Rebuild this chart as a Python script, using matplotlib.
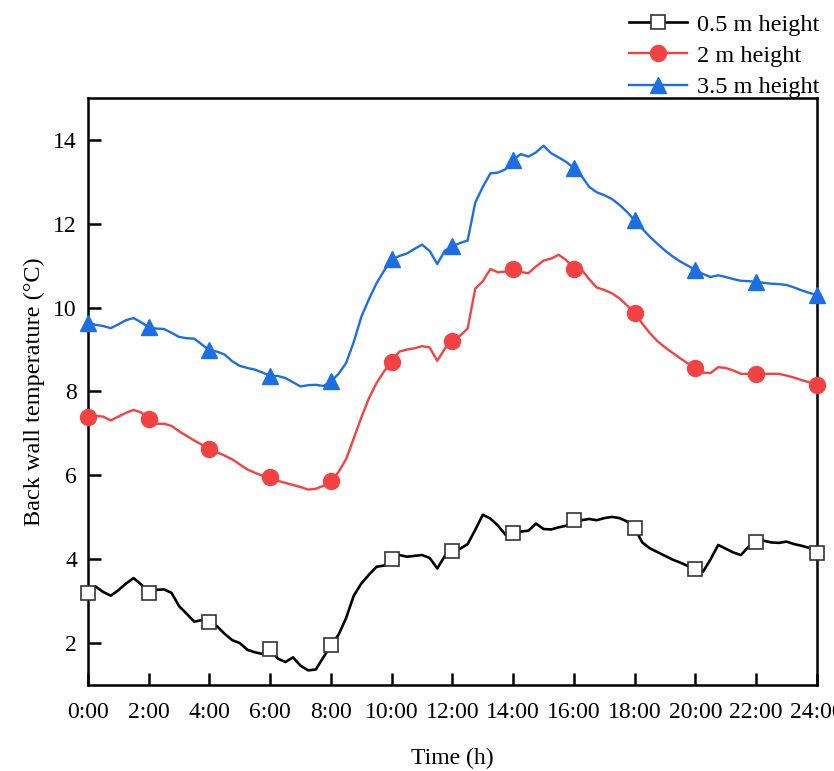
import numpy as np
import matplotlib
matplotlib.use("Agg")
import matplotlib.pyplot as plt

plt.rcParams['font.family'] = ['Liberation Serif', 'DejaVu Serif']
plt.rcParams['mathtext.fontset'] = 'stix'

# time in hours, 15-minute steps
time_h = np.arange(0, 24.01, 0.25)

temp_05m = [3.19, 3.35, 3.22, 3.13, 3.26, 3.42, 3.55, 3.40, 3.20, 3.27, 3.28, 3.20,
            2.88, 2.70, 2.51, 2.55, 2.51, 2.40, 2.22, 2.07, 2.00, 1.84, 1.78, 1.74,
            1.86, 1.63, 1.55, 1.66, 1.46, 1.35, 1.37, 1.66, 1.95, 2.20, 2.60, 3.13,
            3.42, 3.63, 3.82, 3.85, 4.00, 4.10, 4.06, 4.08, 4.10, 4.03, 3.78, 4.08,
            4.20, 4.25, 4.36, 4.70, 5.06, 4.97, 4.80, 4.58, 4.62, 4.66, 4.68, 4.85,
            4.72, 4.71, 4.76, 4.80, 4.94, 4.93, 4.96, 4.93, 4.98, 5.01, 4.98, 4.90,
            4.74, 4.40, 4.26, 4.17, 4.08, 3.99, 3.92, 3.84, 3.76, 3.70, 4.00, 4.34,
            4.25, 4.16, 4.10, 4.30, 4.42, 4.44, 4.40, 4.39, 4.42, 4.36, 4.32, 4.27,
            4.16]

temp_2m = [7.39, 7.42, 7.40, 7.31, 7.40, 7.49, 7.56, 7.50, 7.35, 7.23, 7.23, 7.18,
           7.05, 6.94, 6.83, 6.73, 6.63, 6.55, 6.47, 6.38, 6.26, 6.14, 6.06, 5.99,
           5.95, 5.87, 5.82, 5.77, 5.72, 5.66, 5.68, 5.75, 5.87, 6.08, 6.39, 6.88,
           7.38, 7.84, 8.20, 8.48, 8.71, 8.95, 9.00, 9.03, 9.08, 9.05, 8.73, 9.02,
           9.21, 9.33, 9.50, 10.45, 10.63, 10.92, 10.84, 10.86, 10.92, 10.85, 10.82, 10.98,
           11.12, 11.17, 11.26, 11.13, 10.92, 10.91, 10.68, 10.48, 10.42, 10.34, 10.22, 10.05,
           9.87, 9.62, 9.39, 9.20, 9.05, 8.92, 8.79, 8.67, 8.57, 8.45, 8.44, 8.58,
           8.56, 8.50, 8.42, 8.42, 8.42, 8.42, 8.42, 8.42, 8.38, 8.33, 8.27, 8.22,
           8.16]

temp_35m = [9.63, 9.59, 9.56, 9.51, 9.60, 9.70, 9.75, 9.65, 9.53, 9.50, 9.49, 9.40,
            9.30, 9.27, 9.26, 9.12, 8.98, 8.95, 8.88, 8.72, 8.61, 8.56, 8.52, 8.45,
            8.37, 8.37, 8.32, 8.22, 8.12, 8.15, 8.16, 8.13, 8.24, 8.42, 8.68, 9.18,
            9.78, 10.20, 10.58, 10.88, 11.15, 11.23, 11.29, 11.40, 11.50, 11.35, 11.04, 11.36,
            11.46, 11.54, 11.60, 12.50, 12.88, 13.20, 13.22, 13.30, 13.52, 13.66, 13.60, 13.70,
            13.86, 13.68, 13.58, 13.47, 13.33, 13.14, 12.88, 12.75, 12.68, 12.59, 12.45, 12.28,
            12.08, 11.88, 11.69, 11.52, 11.36, 11.22, 11.10, 11.00, 10.90, 10.80, 10.73, 10.77,
            10.73, 10.68, 10.64, 10.63, 10.62, 10.59, 10.57, 10.56, 10.54, 10.48, 10.41, 10.35,
            10.30]

series_labels = ['0.5 m height', '2 m height', '3.5 m height']
xtick_vals = list(range(0, 25, 2))
xtick_labels = [f'{h}:00' for h in xtick_vals]
ytick_vals = [2, 4, 6, 8, 10, 12, 14]

fig = plt.figure(figsize=(8.34, 7.71), dpi=100)
ax = fig.add_axes([0.1055, 0.1115, 0.874, 0.7615])

ax.plot(time_h, temp_05m, color='black', lw=1.9, marker='s', markevery=8,
        markersize=10, markerfacecolor='white', markeredgecolor='#333333',
        markeredgewidth=1.2, label=series_labels[0], clip_on=False, zorder=3)
ax.plot(time_h, temp_2m, color='#F44242', lw=1.7, marker='o', markevery=8,
        markersize=11.5, markerfacecolor='#F44242', markeredgecolor='#F44242',
        label=series_labels[1], clip_on=False, zorder=3)
ax.plot(time_h, temp_35m, color='#1C6FE3', lw=1.7, marker='^', markevery=8,
        markersize=11.5, markerfacecolor='#1C6FE3', markeredgecolor='#1C6FE3',
        label=series_labels[2], clip_on=False, zorder=3)

ax.set_xlim(0, 24)
ax.set_ylim(1, 15)
ax.set_xticks(xtick_vals)
ax.set_xticklabels(xtick_labels)
ax.set_yticks(ytick_vals)
ax.tick_params(direction='in', length=9, width=1.8, labelsize=17, pad=12)
ax.tick_params(axis='y', pad=8)
for s in ax.spines.values():
    s.set_linewidth(1.8)

ax.set_xlabel('Time (h)', fontsize=17, labelpad=18)
ax.set_ylabel('Back wall temperature (°C)', fontsize=17.5, labelpad=6)

handles, labels = ax.get_legend_handles_labels()
leg = fig.legend(handles, labels, loc='upper right', bbox_to_anchor=(1.006, 1.0075),
                 frameon=False, fontsize=17.5, handlelength=2.4, handletextpad=0.4,
                 labelspacing=0.38, borderpad=0.3)

fig.savefig('out.png', dpi=100)
